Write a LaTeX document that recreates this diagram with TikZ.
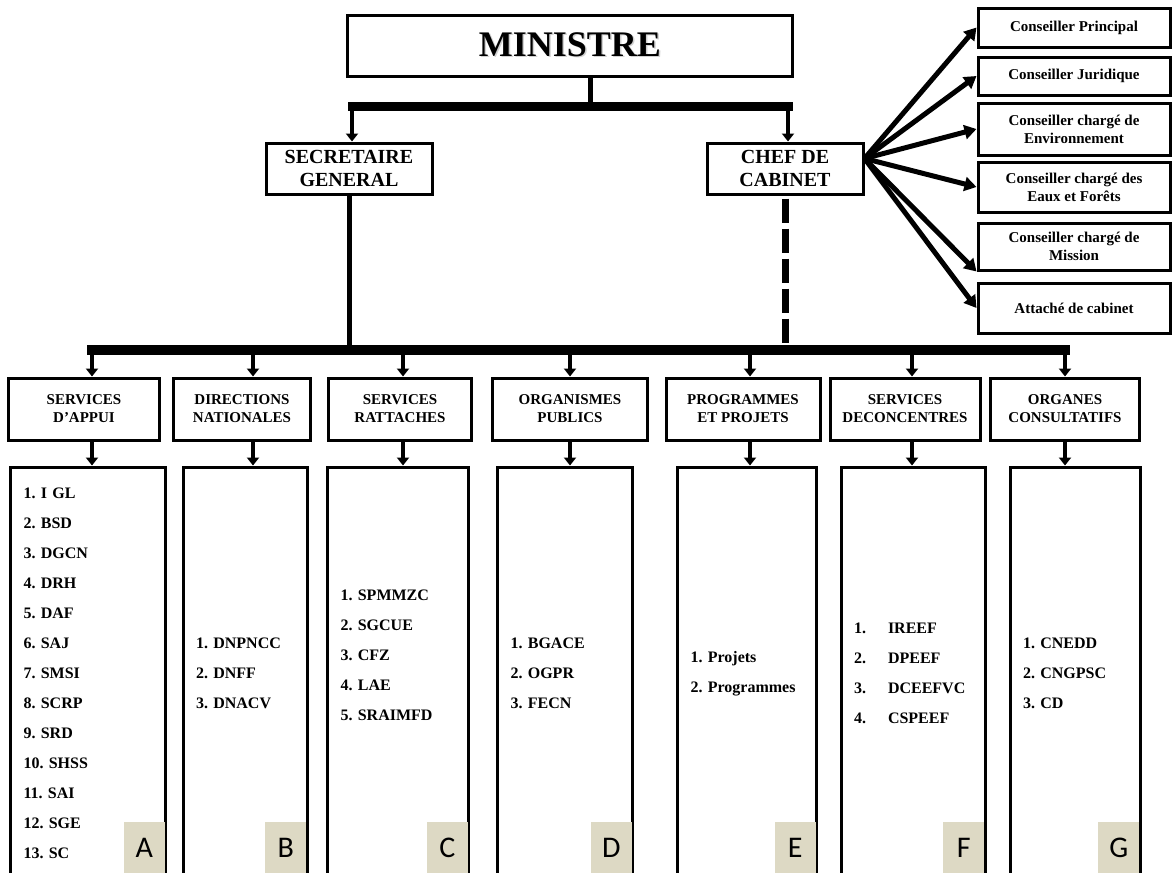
\documentclass[tikz,border=0pt]{standalone}
\usepackage{fontspec}
\setmainfont{Liberation Serif}
\newfontfamily\tagfont{Carlito}
\usetikzlibrary{arrows.meta}
\definecolor{tagbeige}{HTML}{DDD9C4}
\frenchspacing

\tikzset{
  box/.style={draw, line width=3pt, align=center, inner sep=2pt, font=\bfseries},
  headbox/.style={box, minimum height=62pt, font=\fontsize{15}{18}\selectfont\bfseries},
  listbox/.style={draw, line width=3pt, align=left, minimum height=413pt, inner xsep=13pt, inner ysep=0pt, font=\fontsize{16}{30}\selectfont\bfseries},
  advbox/.style={box, minimum width=192pt, font=\fontsize{15}{18}\selectfont\bfseries},
  tag/.style={fill=tagbeige, minimum width=41pt, minimum height=52pt, inner sep=0pt, font=\fontsize{30}{30}\selectfont\tagfont},
  arr/.style={line width=4.5pt, -{Triangle[width=12pt,length=8pt]}},
  advarr/.style={line width=5pt, -{Triangle[width=14pt,length=12pt]}},
  bar/.style={line width=9pt, line cap=rect},
  stem/.style={line width=5pt},
}

\begin{document}
\begin{tikzpicture}[x=1pt,y=-1pt]
        \useasboundingbox (0,0) rectangle (1173,873);
        \clip (0,0) rectangle (1173,873);

        % top
        \node[box, minimum width=445pt, minimum height=61pt, font=\fontsize{36}{36}\selectfont\bfseries] (min) at (570,45.5) {\rlap{\kern1.5pt\raisebox{-1.5pt}{\color{black!18}MINISTRE}}MINISTRE};
        \node[box, minimum width=166pt, minimum height=51pt, font=\fontsize{20}{23}\selectfont\bfseries] (sg) at (349,168.5) {SECRETAIRE\\GENERAL};
        \node[box, minimum width=156pt, minimum height=51pt, font=\fontsize{20}{23}\selectfont\bfseries] (chef) at (785,168.5) {CHEF DE\\CABINET};

        % advisors
        \node[advbox, minimum height=39pt] (ad1) at (1074,27.5) {Conseiller Principal};
        \node[advbox, minimum height=38pt] (ad2) at (1074,76) {Conseiller Juridique};
        \node[advbox, minimum height=52pt] (ad3) at (1074,129) {Conseiller chargé de\\Environnement};
        \node[advbox, minimum height=50pt] (ad4) at (1074,187) {Conseiller chargé des\\Eaux et Forêts};
        \node[advbox, minimum height=47pt] (ad5) at (1074,246.5) {Conseiller chargé de\\Mission};
        \node[advbox, minimum height=50pt] (ad6) at (1074,308) {Attaché de cabinet};

        % headers
        \node[headbox, minimum width=151pt] (hA) at (84,409) {SERVICES\\D’APPUI};
        \node[headbox, minimum width=137pt] (hB) at (242,409) {DIRECTIONS\\NATIONALES};
        \node[headbox, minimum width=143pt] (hC) at (400,409) {SERVICES\\RATTACHES};
        \node[headbox, minimum width=155pt] (hD) at (570,409) {ORGANISMES\\PUBLICS};
        \node[headbox, minimum width=154pt] (hE) at (743,409) {PROGRAMMES\\ET PROJETS};
        \node[headbox, minimum width=150pt] (hF) at (905,409) {SERVICES\\DECONCENTRES};
        \node[headbox, minimum width=149pt] (hG) at (1065,409) {ORGANES\\CONSULTATIFS};

        % lists
        \node[listbox, text width=129pt] (lA) at (88,673.5) {1. I GL\\2. BSD\\3. DGCN\\4. DRH\\5. DAF\\6. SAJ\\7. SMSI\\8. SCRP\\9. SRD\\10. SHSS\\11. SAI\\12. SGE\\13. SC};
        \node[listbox, text width=98pt] (lB) at (245,673.5) {1. DNPNCC\\2. DNFF\\3. DNACV};
        \node[listbox, text width=115pt] (lC) at (398,673.5) {1. SPMMZC\\2. SGCUE\\3. CFZ\\4. LAE\\5. SRAIMFD\\[6pt]\mbox{}};
        \node[listbox, text width=109pt] (lD) at (565,673.5) {1. BGACE\\2. OGPR\\3. FECN};
        \node[listbox, text width=113pt] (lE) at (747,673.5) {1. Projets\\2. Programmes};
        \node[listbox, text width=118pt] (lF) at (913,673.5) {\makebox[34pt][l]{1.}IREEF\\\makebox[34pt][l]{2.}DPEEF\\\makebox[34pt][l]{3.}DCEEFVC\\\makebox[34pt][l]{4.}CSPEEF};
        \node[listbox, text width=104pt] (lG) at (1075,673.5) {1. CNEDD\\2. CNGPSC\\3. CD};

        % connectors
        \coordinate (b1m) at (590,106);
        \coordinate (b1l) at (352,106);
        \coordinate (b1r) at (788,106);
        \draw[stem] (min.south -| b1m) -- (b1m);
        \draw[bar] (b1l) -- (b1r);
        \draw[arr] (b1l) -- (sg.north -| b1l);
        \draw[arr] (b1r) -- (chef.north -| b1r);

        \coordinate (b2l) at (92,350);
        \coordinate (b2r) at (1065,350);
        \draw[bar, line width=10pt] (b2l) -- (b2r);
        \draw[stem] (sg.south) -- (sg.south |- b2l);
        \draw[line width=7pt, dash pattern=on 24pt off 6pt] ([yshift=-3pt]chef.south) -- (chef.south |- b2l);

        \foreach \c/\x in {A/92,B/253,C/403,D/570,E/750,F/912,G/1065} {
            \coordinate (c\c) at (\x,350);
            \draw[arr] (c\c) -- (h\c.north -| c\c);
            \draw[arr] (h\c.south -| c\c) -- (l\c.north -| c\c);
        }

        \coordinate (cs) at ([yshift=10pt]chef.east);
        \foreach \a in {ad1,ad2,ad3,ad4,ad6}
            \draw[advarr] (cs) -- (\a.west);
        \draw[advarr] (cs) -- (ad5.south west);

        % letter tags
        \coordinate (tagtop) at (0,822);
        \foreach \c in {A,B,C,D,E,F,G}
            \node[tag, anchor=north east, xshift=-2pt] (t\c) at (l\c.east |- tagtop) {\c};
    \end{tikzpicture}
\end{document}
